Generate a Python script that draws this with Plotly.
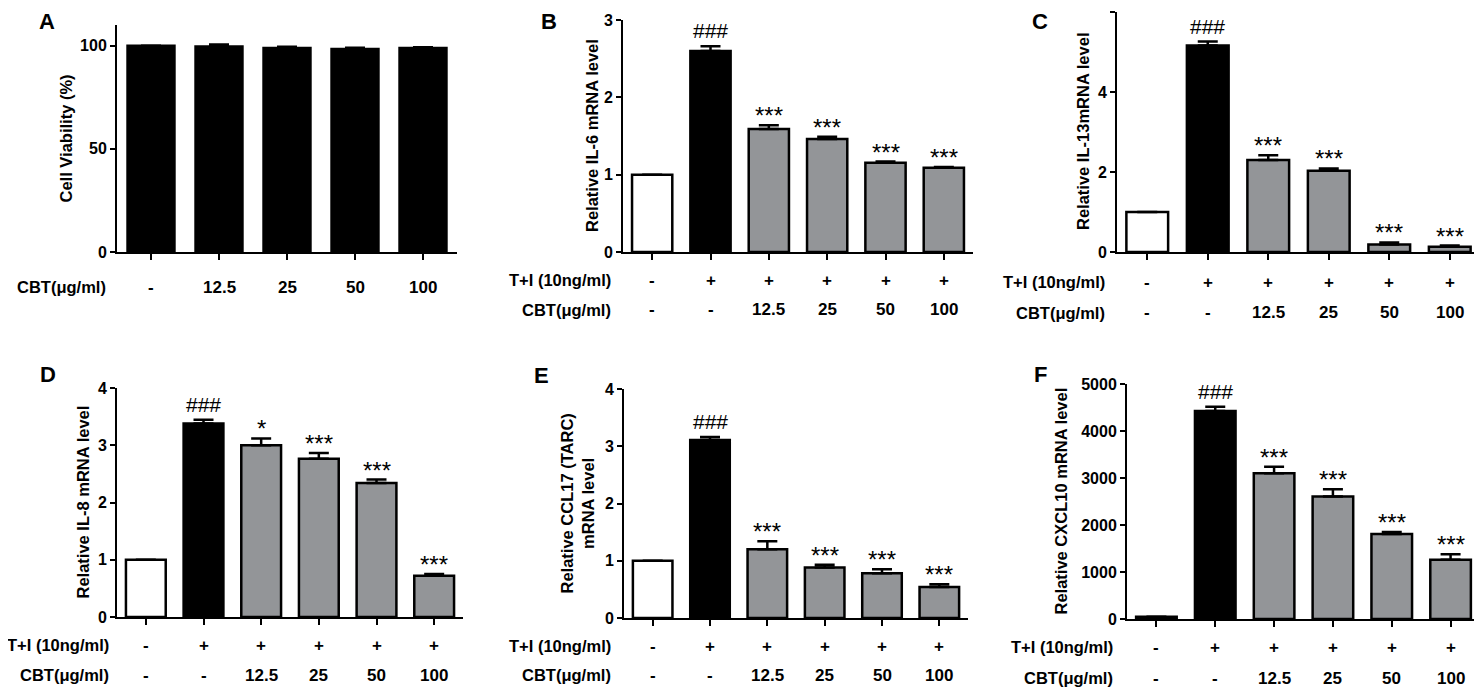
import plotly.graph_objects as go

# data
cbt_a = ['-', '12.5', '25', '50', '100']
viability = [100, 99.6, 98.9, 98.4, 98.8]
viability_err = [0, 1.0, 0.5, 0.6, 0.4]

ti_row = ['-', '+', '+', '+', '+', '+']
cbt_row = ['-', '-', '12.5', '25', '50', '100']

il6 = [1.0, 2.60, 1.59, 1.46, 1.155, 1.09]
il6_err = [0, 0.06, 0.05, 0.03, 0.015, 0.01]
il13 = [1.0, 5.16, 2.30, 2.03, 0.19, 0.13]
il13_err = [0, 0.10, 0.12, 0.06, 0.05, 0.03]
il8 = [1.0, 3.38, 3.00, 2.765, 2.34, 0.72]
il8_err = [0, 0.065, 0.12, 0.10, 0.06, 0.03]
ccl17 = [1.0, 3.11, 1.20, 0.88, 0.78, 0.54]
ccl17_err = [0, 0.05, 0.14, 0.05, 0.07, 0.05]
cxcl10 = [50, 4425, 3100, 2605, 1806, 1260]
cxcl10_err = [0, 90, 140, 155, 45, 120]

sig = ['', '###', '***', '***', '***', '***']
sig_d = ['', '###', '*', '***', '***', '***']

# page body has an 8px margin, so the figure is 8px smaller and shifted
OFF = 8
W, H = 1482 - OFF, 691 - OFF
FONT = 'Liberation Sans'
GREY = '#939598'
colors6 = ['white', 'black', GREY, GREY, GREY, GREY]


def px(x):
    return (x - OFF) / W


def py(y):
    return 1 - (y - OFF) / H


# one dict per panel; xd / yd are the axis extents in page pixels,
# lp the letter position, tx the y-title centre, rows the labels under the axis
panels = [
    dict(letter='A', vals=viability, err=viability_err, sig=None, cols=['black'] * 5,
         title='Cell Viability (%)', yr=[0, 110], ticks=[0, 50, 100],
         xd=(117, 457), yd=(25, 252), lp=(47, 22), tx=65,
         rows=[('CBT(\u03bcg/ml)', cbt_a, 287)], rx=108),
    dict(letter='B', vals=il6, err=il6_err, sig=sig, cols=colors6,
         title='Relative IL-6 mRNA level', yr=[0, 3], ticks=[0, 1, 2, 3],
         xd=(623, 973), yd=(20, 252), lp=(549, 22), tx=592,
         rows=[('T+I (10ng/ml)', ti_row, 280), ('CBT(\u03bcg/ml)', cbt_row, 310)], rx=613),
    dict(letter='C', vals=il13, err=il13_err, sig=sig, cols=colors6,
         title='Relative IL-13mRNA level', yr=[0, 6], ticks=[0, 2, 4, 6],
         xd=(1117, 1480), yd=(12, 252), lp=(1040, 22), tx=1083,
         rows=[('T+I (10ng/ml)', ti_row, 282), ('CBT(\u03bcg/ml)', cbt_row, 313)], rx=1107),
    dict(letter='D', vals=il8, err=il8_err, sig=sig_d, cols=colors6,
         title='Relative IL-8 mRNA level', yr=[0, 4], ticks=[0, 1, 2, 3, 4],
         xd=(117, 463), yd=(388, 617), lp=(48, 374), tx=82,
         rows=[('T+I (10ng/ml)', ti_row, 645), ('CBT(\u03bcg/ml)', cbt_row, 675)], rx=111),
    dict(letter='E', vals=ccl17, err=ccl17_err, sig=sig, cols=colors6,
         title='Relative CCL17 (TARC)<br>mRNA level', yr=[0, 4], ticks=[0, 1, 2, 3, 4],
         xd=(624, 968), yd=(389, 618), lp=(541, 375), tx=577,
         rows=[('T+I (10ng/ml)', ti_row, 646), ('CBT(\u03bcg/ml)', cbt_row, 675)], rx=613),
    dict(letter='F', vals=cxcl10, err=cxcl10_err, sig=sig, cols=colors6,
         title='Relative CXCL10 mRNA level', yr=[0, 5000], ticks=[0, 1000, 2000, 3000, 4000, 5000],
         xd=(1127, 1480), yd=(384, 619), lp=(1040, 374), tx=1060,
         rows=[('T+I (10ng/ml)', ti_row, 647), ('CBT(\u03bcg/ml)', cbt_row, 678)], rx=1115),
]

fig = go.Figure()
annotations = []
layout_axes = {}


def bold(size):
    return dict(family=FONT, size=size, color='black', weight='bold')


for i, p in enumerate(panels, start=1):
    n = len(p['vals'])
    xs = list(range(n))
    xname = 'x' if i == 1 else 'x%d' % i
    yname = 'y' if i == 1 else 'y%d' % i
    fig.add_trace(go.Bar(
        x=xs, y=p['vals'], width=0.69,
        marker=dict(color=p['cols'], line=dict(color='black', width=2.5)),
        error_y=dict(type='data', array=p['err'], arrayminus=[0] * n, symmetric=False,
                     color='black', thickness=2.5, width=10),
        xaxis=xname, yaxis=yname, showlegend=False, hoverinfo='y'))

    layout_axes['xaxis' if i == 1 else 'xaxis%d' % i] = dict(
        domain=[px(p['xd'][0]), px(p['xd'][1])], anchor=yname,
        range=[-0.5, n - 0.5], tickvals=xs, showticklabels=False,
        ticks='outside', ticklen=6, tickwidth=2, tickcolor='black',
        showline=True, linecolor='black', linewidth=2, showgrid=False, zeroline=False)
    layout_axes['yaxis' if i == 1 else 'yaxis%d' % i] = dict(
        domain=[py(p['yd'][1]), py(p['yd'][0])], anchor=xname,
        range=p['yr'], tickvals=p['ticks'],
        ticks='outside', ticklen=5, tickwidth=2, tickcolor='black',
        tickfont=bold(16),
        showline=True, linecolor='black', linewidth=2, showgrid=False, zeroline=False)

    # panel letter
    annotations.append(dict(text=p['letter'], x=px(p['lp'][0]), y=py(p['lp'][1]),
                            xref='paper', yref='paper', xanchor='center', yanchor='middle',
                            showarrow=False, font=bold(22)))
    # y title
    annotations.append(dict(text=p['title'], textangle=-90,
                            x=px(p['tx']), y=py((p['yd'][0] + p['yd'][1]) / 2),
                            xref='paper', yref='paper', xanchor='center', yanchor='middle',
                            showarrow=False, font=bold(16.5)))
    # rows under the x axis
    for label, cells, ry in p['rows']:
        annotations.append(dict(text=label, x=px(p['rx']), y=py(ry),
                                xref='paper', yref='paper', xanchor='right', yanchor='middle',
                                showarrow=False, font=bold(16.5)))
        for k, c in enumerate(cells):
            annotations.append(dict(text=c, x=k, y=py(ry), xref=xname, yref='paper',
                                    xanchor='center', yanchor='middle',
                                    showarrow=False, font=bold(17)))
    # significance marks
    if p['sig']:
        for k, s in enumerate(p['sig']):
            if s:
                hashes = s.startswith('#')
                annotations.append(dict(text=s, x=k, y=p['vals'][k] + p['err'][k],
                                        xref=xname, yref=yname, xanchor='center', yanchor='bottom',
                                        yshift=2 if hashes else -6, showarrow=False,
                                        font=dict(family=FONT, size=21 if hashes else 24,
                                                  color='black')))

fig.update_layout(
    width=W, height=H, margin=dict(l=0, r=0, t=0, b=0, autoexpand=False),
    paper_bgcolor='white', plot_bgcolor='white',
    font=dict(family=FONT, color='black'),
    annotations=annotations, **layout_axes)

fig.write_html('out.html')
